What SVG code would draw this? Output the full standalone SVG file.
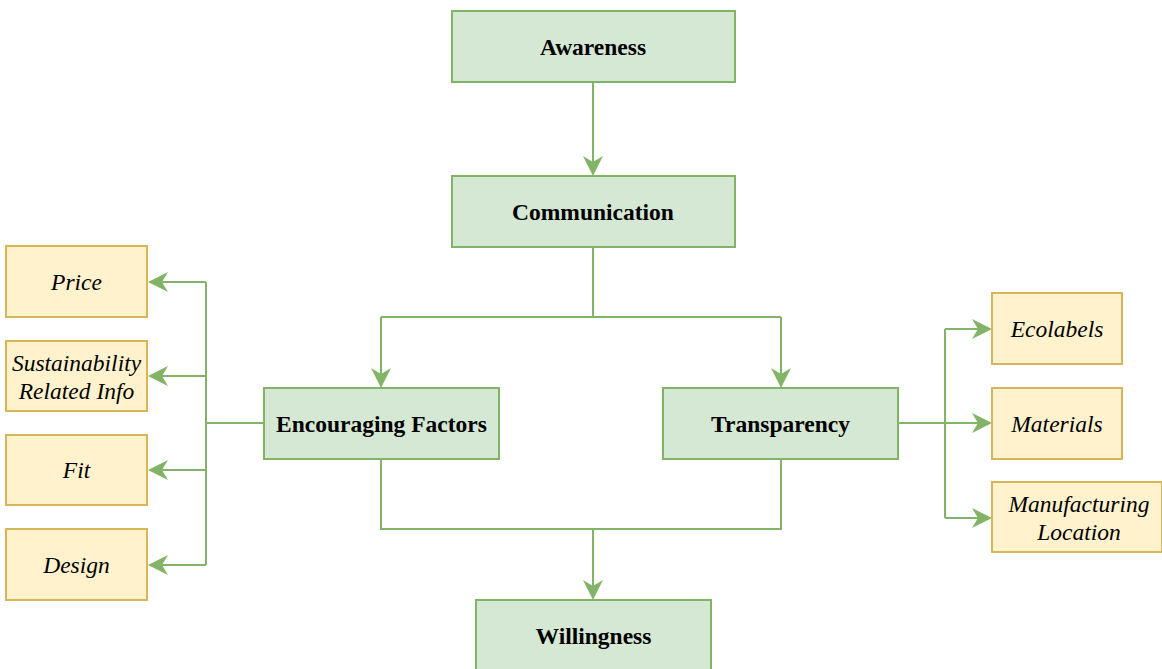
<svg xmlns="http://www.w3.org/2000/svg" width="1162" height="669" viewBox="0 0 1162 669">
<style>
.g{fill:#d5e8d4;stroke:#82b366;stroke-width:2}
.y{fill:#fff2cc;stroke:#d6b656;stroke-width:2}
.tb{font-family:"Liberation Serif","Times New Roman",serif;font-weight:bold;font-size:23.5px;fill:#000;text-anchor:middle}
.ti{font-family:"Liberation Serif","Times New Roman",serif;font-style:italic;font-size:23.5px;fill:#000;text-anchor:middle}
.c{fill:none;stroke:#82b366;stroke-width:2}
.a{marker-end:url(#arr)}
</style>
<defs>
<marker id="arr" markerUnits="userSpaceOnUse" markerWidth="21" markerHeight="21" refX="6" refY="10" orient="auto" viewBox="0 0 21 20">
<path d="M0,0 L20,10 L0,20 L6,10 Z" fill="#82b366" stroke="none"/>
</marker>
</defs>
<rect width="1162" height="669" fill="#fff"/>
<g id="connectors">
<path class="c a" d="M593,82 V162"/>
<path class="c" d="M593,247 V317 H381 M593,317 H781"/>
<path class="c a" d="M381,317 V374"/>
<path class="c a" d="M781,317 V374"/>
<path class="c" d="M381,459 V529 H781 V459"/>
<path class="c a" d="M593,529 V586"/>
<path class="c" d="M264,423 H206 M206,282 V565"/>
<path class="c a" d="M206,282 H162"/>
<path class="c a" d="M206,376 H162"/>
<path class="c a" d="M206,470 H162"/>
<path class="c a" d="M206,565 H162"/>
<path class="c" d="M898,423 H945 M945,329 V518"/>
<path class="c a" d="M945,329 H978"/>
<path class="c a" d="M945,423 H978"/>
<path class="c a" d="M945,518 H978"/>
</g>
<g id="awareness"><rect class="g" x="452" y="11" width="283" height="71"/><text class="tb" x="593" y="55">Awareness</text></g>
<g id="communication"><rect class="g" x="452" y="176" width="283" height="71"/><text class="tb" x="593" y="220">Communication</text></g>
<g id="encouraging"><rect class="g" x="264" y="388" width="235" height="71"/><text class="tb" x="381.5" y="432">Encouraging Factors</text></g>
<g id="transparency"><rect class="g" x="663" y="388" width="235" height="71"/><text class="tb" x="780.5" y="432">Transparency</text></g>
<g id="willingness"><rect class="g" x="476" y="600" width="235" height="74"/><text class="tb" x="593.5" y="644">Willingness</text></g>
<g id="price"><rect class="y" x="6" y="246" width="141" height="71"/><text class="ti" x="76.5" y="290">Price</text></g>
<g id="sustainability"><rect class="y" x="6" y="341" width="141" height="70"/><text class="ti" x="76.5" y="371">Sustainability</text><text class="ti" x="76.5" y="399">Related Info</text></g>
<g id="fit"><rect class="y" x="6" y="435" width="141" height="70"/><text class="ti" x="76.5" y="478">Fit</text></g>
<g id="design"><rect class="y" x="6" y="529" width="141" height="71"/><text class="ti" x="76.5" y="573">Design</text></g>
<g id="ecolabels"><rect class="y" x="992" y="293" width="130" height="71"/><text class="ti" x="1057" y="337">Ecolabels</text></g>
<g id="materials"><rect class="y" x="992" y="388" width="130" height="71"/><text class="ti" x="1057" y="432">Materials</text></g>
<g id="manufacturing"><rect class="y" x="992" y="482" width="170" height="70"/><text class="ti" x="1079" y="512">Manufacturing</text><text class="ti" x="1079" y="540">Location</text></g>
</svg>
